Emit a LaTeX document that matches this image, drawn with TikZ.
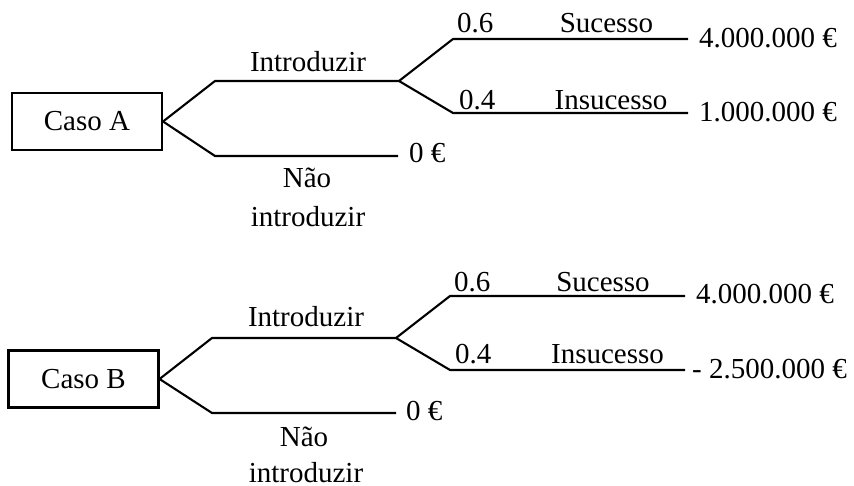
\documentclass[tikz,border=0pt]{standalone}
\usepackage{fontspec}
\setmainfont{Liberation Serif}
\begin{document}
\begin{tikzpicture}[x=1pt,y=-1pt,
  branch/.style={line width=2.1pt, line join=miter},
  casebox/.style={draw, line width=2.1pt, minimum width=150pt, minimum height=57pt, inner sep=0pt},
  lbl/.style={inner sep=0pt, anchor=base},
  lblw/.style={inner sep=0pt, anchor=base west}]
\fontsize{29}{35}\selectfont
\useasboundingbox (0,0) rectangle (854,486);

% ---------- Caso A ----------
\node[casebox] (caseA) at (87,121.5) {Caso A};
\coordinate (A1) at (215,81);
\coordinate (A2) at (399,81);
\coordinate (A3) at (453,39);
\coordinate (A4) at (688,39);
\coordinate (A5) at (453,113);
\coordinate (A6) at (688,113);
\coordinate (A7) at (215,156);
\coordinate (A8) at (398,156);
\draw[branch] (caseA.east) -- (A1) -- (A2) -- (A3) -- (A4);
\draw[branch] (A2) -- (A5) -- (A6);
\draw[branch] (caseA.east) -- (A7) -- (A8);

\node[lbl]  (aIntro) at (308,71.7) {Introduzir};
\node[lblw] (aP1)    at (457,33)   {0.6};
\node[lbl]  (aSuc)   at (606.5,33) {Sucesso};
\node[lblw] (aP2)    at (459,110)  {0.4};
\node[lbl]  (aIns)   at (611,110)  {Insucesso};
\node[lblw] (aV1)    at (699,48)   {4.000.000 €};
\node[lblw] (aV2)    at (699,121.5){1.000.000 €};
\node[lblw] (aV0)    at (409,163)  {0 €};
\node[lbl]  (aNao)   at (307,188)  {Não};
\node[lbl]  (aNao2)  at (308,226.7){introduzir};

% ---------- Caso B ----------
\node[casebox] (caseB) at (83.5,379) {Caso B};
\coordinate (B1) at (212,338);
\coordinate (B2) at (396,338);
\coordinate (B3) at (450,296);
\coordinate (B4) at (685,296);
\coordinate (B5) at (450,370);
\coordinate (B6) at (685,370);
\coordinate (B7) at (212,413);
\coordinate (B8) at (396,413);
\draw[branch] (caseB.east) -- (B1) -- (B2) -- (B3) -- (B4);
\draw[branch] (B2) -- (B5) -- (B6);
\draw[branch] (caseB.east) -- (B7) -- (B8);

\node[lbl]  (bIntro) at (306,326.7) {Introduzir};
\node[lblw] (bP1)    at (454,291.7) {0.6};
\node[lbl]  (bSuc)   at (603,291.7) {Sucesso};
\node[lblw] (bP2)    at (455,363.3) {0.4};
\node[lbl]  (bIns)   at (607.5,363.3) {Insucesso};
\node[lblw] (bV1)    at (696,303.3) {4.000.000 €};
\node[lblw] (bV2)    at (692,378.3) {- 2.500.000 €};
\node[lblw] (bV0)    at (406,420)   {0 €};
\node[lbl]  (bNao)   at (304,446.7) {Não};
\node[lbl]  (bNao2)  at (306,482) {introduzir};
\end{tikzpicture}
\end{document}
